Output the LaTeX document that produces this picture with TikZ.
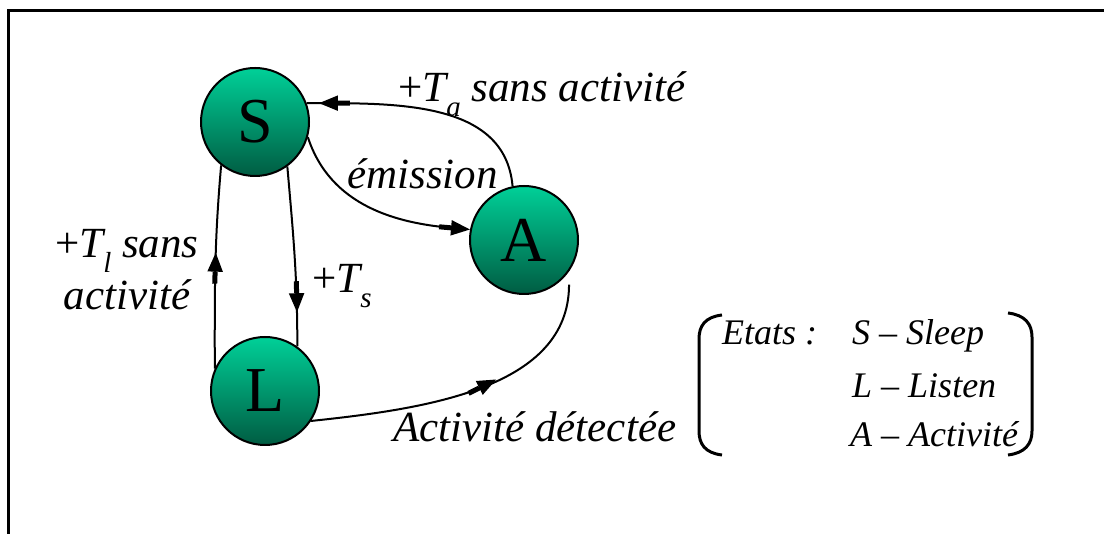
\documentclass[tikz,border=0pt]{standalone}
\usepackage{fontspec}
\setmainfont{Liberation Serif}
\usetikzlibrary{arrows.meta,decorations.markings}

\definecolor{stateTop}{RGB}{0,208,152}
\definecolor{stateBot}{RGB}{0,92,66}

% lowered subscript, as set in the labels
\newcommand\lowsub[1]{\raisebox{-0.33em}{\fontsize{29}{32}\selectfont #1}}

\tikzset{
  state/.style={circle, draw=black, line width=2pt, minimum size=108pt, inner sep=0pt,
    top color=stateTop, bottom color=stateBot, font=\fontsize{64}{70}\selectfont},
  edge/.style={line width=2pt, draw=black},
  % arrow head with a thickened stem just behind it
  headtip/.tip={Rectangle[length=12pt,width=5pt,sep=0pt] Triangle[length=19pt,width=15pt]},
  tip/.style={-{headtip}},
  midarrow/.style={postaction={decorate}, decoration={markings,
    mark=at position #1 with {\arrow{headtip}}}},
  lbl/.style={font=\fontsize{43}{52}\selectfont\itshape, inner sep=0pt},
  leg/.style={font=\fontsize{36}{42}\selectfont\itshape, inner sep=0pt},
}

\begin{document}
\begin{tikzpicture}[x=1pt,y=1pt]
  \useasboundingbox (0,0) rectangle (1104,534);

  % open frame: top and left sides
  \draw[line width=3pt] (1104,523) -- (8,523) -- (8,0);

  % states
  \node[state] (S) at (255,412) {S};
  \node[state] (A) at (524,294) {A};
  \node[state] (L) at (265,143) {L};

  % transitions
  \draw[edge, midarrow=0.81] (S.-54) to[out=-85,in=90] (L.54);
  \draw[edge, midarrow=0.57] (L.156) to[out=90,in=-95] (S.232);
  \draw[edge, tip] (S.-16) to[out=-72,in=175] (A.169);
  \draw[edge, midarrow=0.95] (A.102) to[out=95,in=0] (S.20);
  \draw[edge, midarrow=0.58, shorten >=13pt] (L.-33) to[out=6,in=-90] (A.-35);

  % transition labels
  \node[lbl, anchor=base west] (ta) at (398,432) {{\upshape+}T\lowsub{a} sans activité};
  \node[lbl, anchor=base west] (em) at (347,345) {émission};
  \node[lbl, anchor=base west] (ts) at (312,241) {{\upshape+}T\lowsub{s}};
  \node[lbl, align=center] (tl) at (127,264) {{\upshape+}T\lowsub{l} sans\\activité};
  \node[lbl, anchor=base west] (ad) at (393,92) {Activité détectée};

  % legend
  \draw[line width=3pt] (722,219) .. controls (705,217) and (699,208) .. (699,195)
    -- (699,103) .. controls (699,90) and (705,81) .. (722,79);
  \draw[line width=3pt] (1008,221) .. controls (1025,219) and (1032,210) .. (1032,197)
    -- (1032,103) .. controls (1032,90) and (1025,81) .. (1008,79);
  \node[leg, anchor=base west] (et) at (722,189) {Etats :};
  \node[leg, anchor=base west] (ls) at (852,189) {S – Sleep};
  \node[leg, anchor=base west] (ll) at (852,136) {L – Listen};
  \node[leg, anchor=base west] (la) at (850,87) {A – Activité};
\end{tikzpicture}
\end{document}
